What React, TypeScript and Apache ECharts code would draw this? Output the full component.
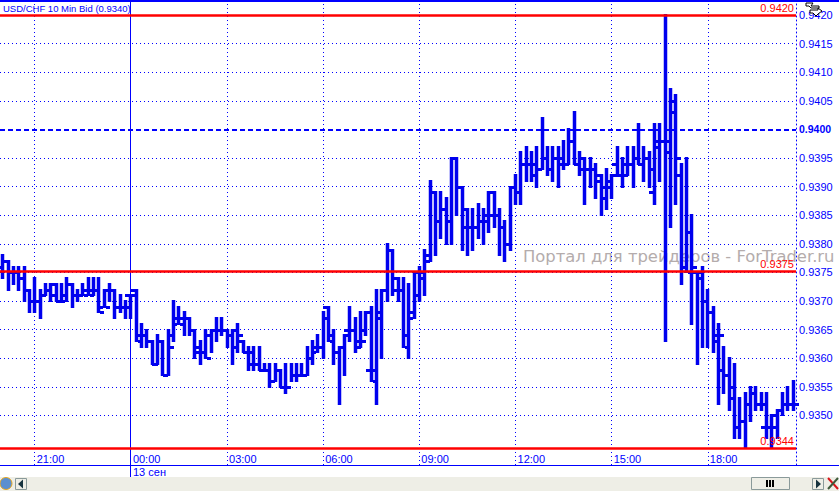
import React, { useEffect, useRef } from "react";
import * as echarts from "echarts";

const titleText = "USD/CHF 10 Min Bid (0.9340)";
const watermark = "Портал для трейдеров - ForTrader.ru";
const dateLabel = "13 сен";
const priceTicks = [0.935, 0.9355, 0.936, 0.9365, 0.937, 0.9375, 0.938, 0.9385, 0.939, 0.9395, 0.94, 0.9405, 0.941, 0.9415, 0.942];
const redLevels = [0.942, 0.93752, 0.93443];
const dashedLevel = 0.94;
const timeLabels = ["21:00", "00:00", "03:00", "06:00", "09:00", "12:00", "15:00", "18:00"];

const opens = [9376,9377,9375,9375,9374,9372,9370,9370,9371,9372,9371,9370,9370,9373,9371,9371,9372,9372,9372,9369,9372,9372,9369,9369,9371,9372,9364,9364,9363,9359,9363,9357,9364,9366,9367,9367,9365,9361,9361,9364,9365,9365,9365,9364,9365,9363,9361,9359,9359,9358,9358,9356,9358,9355,9355,9357,9357,9357,9360,9361,9362,9369,9364,9361,9362,9365,9365,9363,9365,9358,9358,9368,9372,9379,9372,9372,9364,9367,9371,9374,9378,9389,9384,9386,9384,9395,9390,9386,9383,9383,9384,9385,9389,9385,9383,9380,9390,9389,9394,9394,9392,9393,9395,9393,9395,9394,9394,9398,9394,9393,9393,9393,9392,9388,9391,9394,9392,9394,9394,9395,9394,9395,9389,9398,9398,9396,9403,9392,9376,9382,9375,9374,9370,9368,9363,9358,9357,9353,9348,9349,9352,9354,9352,9348,9348,9350,9351,9352,9352];
const highs = [9378,9377,9376,9376,9376,9372,9374,9372,9373,9373,9373,9373,9374,9373,9372,9373,9374,9374,9374,9372,9373,9372,9371,9370,9371,9372,9366,9365,9363,9364,9363,9365,9370,9369,9368,9367,9365,9363,9365,9365,9367,9367,9365,9365,9366,9363,9362,9362,9362,9359,9359,9359,9358,9359,9359,9359,9359,9362,9363,9364,9368,9369,9365,9362,9364,9369,9367,9368,9368,9369,9372,9372,9380,9379,9374,9374,9373,9375,9376,9379,9391,9389,9389,9388,9395,9395,9390,9386,9386,9387,9386,9389,9389,9386,9384,9390,9392,9396,9397,9396,9397,9402,9397,9397,9397,9398,9400,9403,9396,9395,9395,9394,9392,9393,9392,9397,9395,9397,9397,9401,9397,9396,9401,9401,9420,9407,9406,9394,9395,9385,9375,9376,9372,9369,9366,9362,9360,9359,9353,9354,9355,9355,9354,9354,9350,9351,9354,9355,9356];
const lows = [9374,9372,9373,9372,9370,9368,9368,9367,9371,9370,9370,9370,9370,9369,9370,9371,9371,9371,9368,9369,9370,9367,9368,9367,9367,9363,9362,9362,9359,9359,9357,9357,9363,9366,9364,9364,9360,9359,9360,9361,9363,9364,9362,9359,9361,9361,9358,9358,9358,9358,9355,9356,9355,9354,9356,9356,9357,9357,9359,9361,9360,9363,9359,9352,9357,9363,9361,9362,9364,9356,9352,9360,9370,9371,9370,9362,9360,9367,9370,9371,9377,9378,9381,9380,9380,9385,9379,9378,9379,9381,9380,9382,9383,9378,9377,9379,9387,9387,9391,9391,9390,9393,9392,9391,9390,9393,9394,9394,9392,9387,9390,9388,9385,9386,9388,9392,9390,9392,9390,9394,9391,9390,9387,9391,9363,9383,9387,9373,9375,9366,9359,9362,9362,9361,9352,9354,9351,9346,9346,9344.4,9349,9351,9351,9346,9344.4,9346,9350,9351,9351];
const closes = [9377,9375,9375,9374,9372,9370,9370,9371,9372,9373,9370,9371,9373,9371,9371,9371,9371,9372,9368,9369,9372,9369,9369,9369,9371,9363,9364,9363,9359,9363,9357,9362,9367,9366,9367,9365,9362,9361,9360,9365,9365,9365,9364,9362,9364,9361,9361,9359,9358,9358,9356,9358,9355,9355,9357,9357,9357,9360,9362,9362,9367,9363,9361,9362,9364,9365,9362,9363,9368,9356,9367,9372,9379,9374,9372,9362,9368,9375,9375,9377,9389,9384,9386,9384,9395,9390,9383,9383,9383,9384,9384,9385,9385,9383,9380,9390,9389,9394,9394,9394,9393,9395,9393,9395,9395,9394,9398,9394,9395,9393,9393,9391,9390,9390,9392,9392,9392,9394,9395,9394,9395,9393,9397,9398,9398,9405,9395,9376,9375,9376,9375,9370,9368,9364,9364,9357,9355,9348,9349,9352,9354,9352,9352,9348,9348,9351,9352,9352,9352];

const barColor = "#0000ee";
const blue = "#0000ff";

function categoryAt(i: number): string {
  const total = 20 * 60 + i * 10;
  const h = Math.floor(total / 60) % 24;
  const m = total % 60;
  const day = total >= 1440 ? "13" : "12";
  return `${day} ${String(h).padStart(2, "0")}:${String(m).padStart(2, "0")}`;
}
const categories = opens.map((_, i) => categoryAt(i));
const rows = opens.map((o, i) => [i, o / 10000, highs[i] / 10000, lows[i] / 10000, closes[i] / 10000]);
const gridCats = categories.filter((c) => timeLabels.includes(c.slice(3)) && !(c.startsWith("12 ") && c.slice(3) < "21:00"));
const midnight = "13 00:00";

function renderBar(_: any, api: any) {
  const x = api.value(0);
  const [cx, yO] = api.coord([x, api.value(1)]);
  const yH = Math.round(api.coord([x, api.value(2)])[1]);
  const yL = Math.round(api.coord([x, api.value(3)])[1]);
  const yC = api.coord([x, api.value(4)])[1];
  const px = Math.floor(cx);
  const fill = { fill: barColor };
  return {
    type: "group",
    children: [
      { type: "rect", shape: { x: px - 1.25, y: yH - 1, width: 3.5, height: yL - yH + 2 }, style: fill },
      { type: "rect", shape: { x: px - 5, y: Math.round(yO) - 1, width: 4, height: 3 }, style: fill },
      { type: "rect", shape: { x: px + 2, y: Math.round(yC) - 1, width: 4, height: 3 }, style: fill },
    ],
  };
}

export default function App() {
  const ref = useRef<HTMLDivElement>(null);
  useEffect(() => {
    document.body.style.margin = "0";
    document.body.style.background = "#fff";
    const chart = echarts.init(ref.current!, undefined, { renderer: "svg" });
    const plain = { show: false };
    const dotted = { color: blue, width: 1, type: [1, 3] as any };
    chart.setOption({
      animation: false,
      backgroundColor: "#ffffff",
      title: {
        text: titleText,
        left: 3,
        top: 3,
        padding: 0,
        textStyle: { fontFamily: "Liberation Sans", fontSize: 9.5, fontWeight: "normal", color: blue },
      },
      grid: { left: -1, top: 1, width: 797, height: 464 },
      xAxis: {
        type: "category",
        data: categories,
        boundaryGap: true,
        axisLine: { show: true, onZero: false, lineStyle: { color: blue, width: 1 } },
        axisTick: { show: false },
        splitLine: { show: false },
        axisLabel: {
          inside: true,
          margin: 1,
          align: "left",
          padding: [0, 0, 0, 2],
          color: blue,
          fontFamily: "Liberation Sans",
          fontSize: 11,
          interval: (i: number) => gridCats.includes(categories[i]),
          formatter: (v: string) => v.slice(3),
        },
      },
      yAxis: {
        type: "value",
        position: "right",
        min: 0.934133,
        max: 0.942245,
        scale: true,
        axisLine: { show: true, lineStyle: dotted },
        axisTick: { show: false, customValues: priceTicks },
        splitLine: { show: true, lineStyle: dotted },
        axisLabel: {
          customValues: priceTicks,
          margin: 3,
          color: blue,
          fontFamily: "Liberation Sans",
          fontSize: 11,
          formatter: (v: number) => (Math.abs(v - dashedLevel) < 1e-6 ? `{b|${v.toFixed(4)}}` : v.toFixed(4)),
          rich: { b: { fontWeight: "bold", color: blue, fontFamily: "Liberation Sans", fontSize: 10.5 } },
        },
      },
      series: [
        {
          type: "custom",
          renderItem: renderBar,
          data: rows,
          encode: { x: 0, y: [1, 2, 3, 4] },
          clip: false,
          z: 3,
          markLine: {
            silent: true,
            symbol: "none",
            animation: false,
            precision: 6,
            z: 2,
            data: gridCats
              .filter((c) => c !== midnight)
              .map((c) => ({ xAxis: c, label: plain, lineStyle: dotted })),
          },
        },
        {
          type: "custom",
          renderItem: () => ({ type: "group", children: [] }),
          data: [],
          z: 4,
          markLine: {
            silent: true,
            symbol: "none",
            animation: false,
            precision: 6,
            z: 4,
            data: [
              {
                yAxis: dashedLevel,
                label: plain,
                lineStyle: { color: blue, width: 2, type: [5, 3] as any },
              },
              ...redLevels.map((v) => ({
                yAxis: v,
                lineStyle: { color: "#ff0000", width: 2.5, type: "solid" },
                label: {
                  show: true,
                  position: "insideEndTop",
                  distance: 2,
                  formatter: v.toFixed(4),
                  color: "#ff0000",
                  fontFamily: "Liberation Sans",
                  fontSize: 11,
                },
              })),
            ],
          },
        },
      ],
      graphic: [
        { type: "rect", shape: { x: 0, y: 0, width: 839, height: 2 }, style: { fill: blue }, z: 5 },
        { type: "rect", shape: { x: 130, y: 0, width: 1, height: 477 }, style: { fill: blue }, z: 2 },
        { type: "rect", shape: { x: 796, y: 465, width: 43, height: 1 }, style: { fill: blue }, z: 5 },
        { type: "text", x: 133, y: 466, style: { text: dateLabel, fill: blue, font: "11px 'Liberation Sans'" }, z: 5 },
        {
          type: "text",
          x: 523,
          y: 248,
          style: { text: watermark, fill: "#b4acac", font: "16.4px 'DejaVu Sans'" },
          z: 1,
        },
        { type: "rect", shape: { x: 0, y: 477, width: 839, height: 14 }, style: { fill: "#eeeee6" }, z: 5 },
        { type: "circle", shape: { cx: 6, cy: 483.5, r: 6 }, style: { fill: "#5b8fcf", stroke: "#e8a820", lineWidth: 1 }, z: 6 },
        { type: "rect", shape: { x: 15.5, y: 478.5, width: 11, height: 11 }, style: { fill: "#eeeee6", stroke: "#8a9a9a", lineWidth: 1 }, z: 6 },
        { type: "polygon", shape: { points: [[18, 484], [23, 479.5], [23, 488.5]] }, style: { fill: "#17343f" }, z: 7 },
        { type: "rect", shape: { x: 751.5, y: 477.5, width: 38, height: 12 }, style: { fill: "#eeeee6", stroke: "#8a9a9a", lineWidth: 1 }, z: 6 },
        { type: "rect", shape: { x: 766, y: 480, width: 2, height: 7 }, style: { fill: "#000" }, z: 7 },
        { type: "rect", shape: { x: 769, y: 480, width: 2, height: 7 }, style: { fill: "#000" }, z: 7 },
        { type: "rect", shape: { x: 772, y: 480, width: 2, height: 7 }, style: { fill: "#000" }, z: 7 },
        { type: "rect", shape: { x: 812.5, y: 478.5, width: 11, height: 11 }, style: { fill: "#eeeee6", stroke: "#8a9a9a", lineWidth: 1 }, z: 6 },
        { type: "polygon", shape: { points: [[821, 484], [816, 479.5], [816, 488.5]] }, style: { fill: "#17343f" }, z: 7 },
        { type: "line", shape: { x1: 828, y1: 478, x2: 838, y2: 489 }, style: { stroke: "#d8141a", lineWidth: 2 }, z: 7 },
        { type: "line", shape: { x1: 838, y1: 478, x2: 828, y2: 489 }, style: { stroke: "#3d5a3a", lineWidth: 2 }, z: 7 },
        { type: "polygon", shape: { points: [[806, 3], [813, 3], [811, 6], [819, 6], [819, 8], [811, 8], [809, 6], [806, 6]] }, style: { fill: "#fff", stroke: "#000", lineWidth: 1 }, z: 8 },
        { type: "polygon", shape: { points: [[810, 10], [818, 10], [818, 8], [822, 11], [818, 14], [816, 16], [813, 13], [810, 13]] }, style: { fill: "#fff", stroke: "#000", lineWidth: 1 }, z: 8 },
      ],
    });
    return () => chart.dispose();
  }, []);
  return <div ref={ref} style={{ width: 839, height: 491 }} />;
}
